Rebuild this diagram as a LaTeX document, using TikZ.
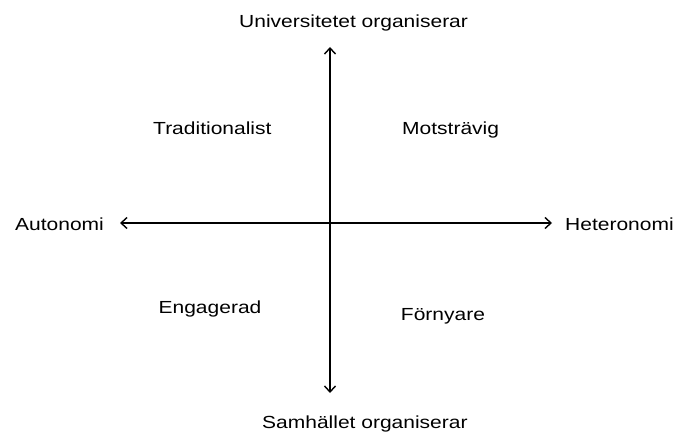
\documentclass[tikz,border=0pt]{standalone}
\usepackage{fontspec}
\setmainfont[FakeStretch=1.2]{Liberation Sans}
\usetikzlibrary{arrows.meta}
\begin{document}
\begin{tikzpicture}[x=1pt,y=-1pt,
  lbl/.style={font=\fontsize{17.5}{20}\selectfont, inner sep=0pt, anchor=base west},
  axis/.style={line width=1.4pt, {Straight Barb[length=6pt,width=11pt]}-{Straight Barb[length=6pt,width=11pt]}}]
\useasboundingbox (0,0) rectangle (677,433);
\coordinate (L) at (120,223);
\coordinate (R) at (552,223);
\coordinate (T) at (330,47);
\coordinate (B) at (330,393);
\draw[axis] (L) -- (R);
\draw[axis] (B) -- (T);
\node[lbl] (top) at (239,28) {Universitetet organiserar};
\node[lbl] (bot) at (262,428) {Samhället organiserar};
\node[lbl] (aut) at (15,230) {Autonomi};
\node[lbl] (het) at (565,230) {Heteronomi};
\node[lbl] (tra) at (153,135) {Traditionalist};
\node[lbl] (mot) at (402,135) {Motsträvig};
\node[lbl,anchor=center] (eng) at (210,309) {Engagerad};
\node[lbl,anchor=center] (forn) at (443,316) {Förnyare};
\end{tikzpicture}
\end{document}
